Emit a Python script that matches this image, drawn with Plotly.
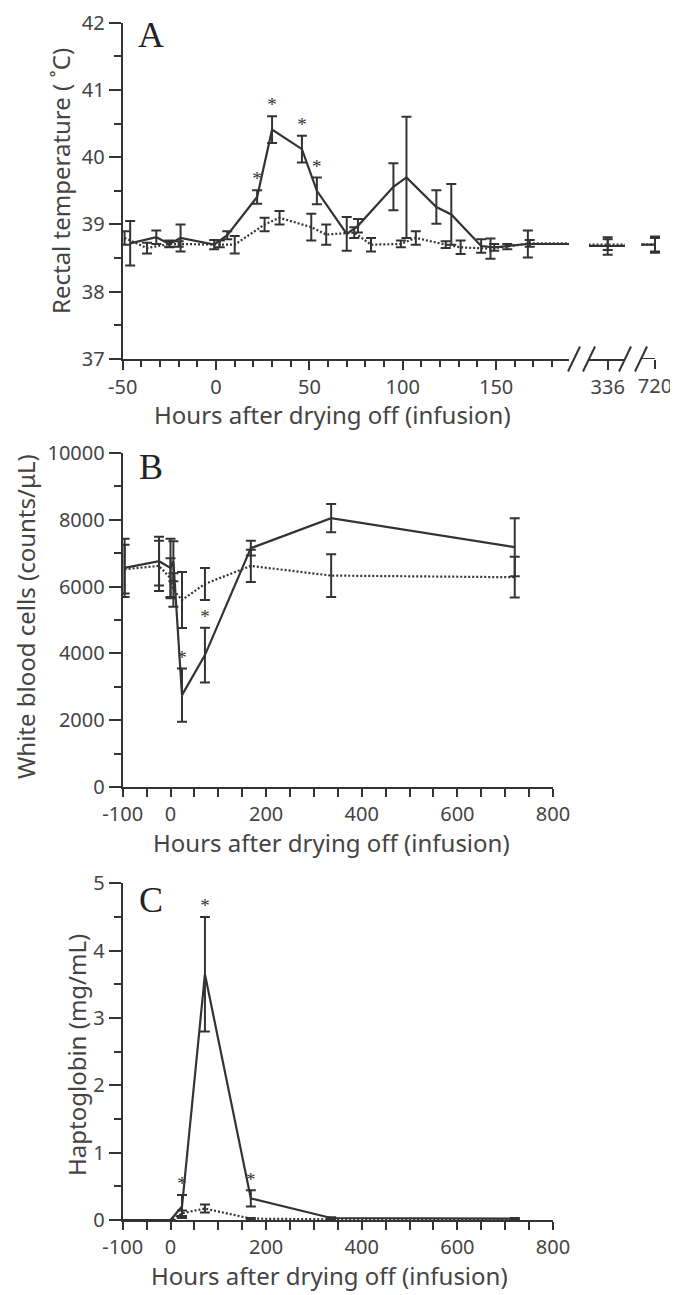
import plotly.graph_objects as go

# page body has an 8px default margin, so the figure is placed at (8, 8)
OFF = 8
W, H = 678 - OFF, 1295 - OFF

# ---------------- Panel A: rectal temperature ----------------
A_trt_t = [-46, -32, -25, -19, -1, 6, 22, 30, 46, 54, 70, 76, 95, 102, 118, 126, 142, 149, 167, 336, 720]
A_trt_v = [38.72, 38.81, 38.71, 38.80, 38.70, 38.84, 39.41, 40.41, 40.12, 39.50, 38.86, 38.98,
           39.56, 39.70, 39.26, 39.15, 38.68, 38.66, 38.71, 38.68, 38.70]
A_trt_e = [0.33, 0.10, 0.05, 0.20, 0.07, 0.06, 0.10, 0.20, 0.20, 0.20, 0.25, 0.10,
           0.35, 0.90, 0.25, 0.45, 0.10, 0.05, 0.20, 0.13, 0.12]
A_trt_sig = [0, 0, 0, 0, 0, 0, 1, 1, 1, 1, 0, 0, 0, 0, 0, 0, 0, 0, 0, 0, 0]

A_ctl_t = [-49, -37, -25, -20, 2, 10, 26, 34, 51, 59, 74, 83, 99, 107, 123, 131, 147, 156, 168, 336, 720]
A_ctl_v = [38.80, 38.65, 38.71, 38.71, 38.71, 38.70, 39.00, 39.10, 38.96, 38.85, 38.88, 38.70,
           38.71, 38.80, 38.70, 38.66, 38.64, 38.67, 38.72, 38.70, 38.70]
A_ctl_e = [0.10, 0.08, 0.04, 0.04, 0.05, 0.13, 0.10, 0.10, 0.20, 0.15, 0.08, 0.10,
           0.05, 0.10, 0.05, 0.10, 0.15, 0.04, 0.05, 0.08, 0.10]

A_ticks = [-50, 0, 50, 100, 150]
A_yticks = [37, 38, 39, 40, 41, 42]

# ---------------- Panel B: white blood cells ----------------
B_t = [-96, -24, 0, 6, 24, 72, 168, 336, 720]
B_trt_v = [6560, 6760, 6560, 6760, 2750, 3950, 7150, 8050, 7180]
B_trt_e = [870, 730, 870, 600, 800, 820, 220, 420, 870]
B_trt_sig = [0, 0, 0, 0, 1, 1, 0, 0, 0]
B_ctl_v = [6520, 6620, 6250, 5900, 5600, 6080, 6620, 6330, 6280]
B_ctl_e = [730, 750, 600, 500, 840, 480, 480, 640, 610]
B_yticks = [0, 2000, 4000, 6000, 8000, 10000]

# ---------------- Panel C: haptoglobin ----------------
C_t = [-96, -24, 0, 24, 72, 168, 336, 720]
C_trt_v = [0.0, 0.0, 0.0, 0.20, 3.65, 0.32, 0.03, 0.02]
C_trt_e = [0.0, 0.0, 0.0, 0.17, 0.85, 0.12, 0.01, 0.01]
C_trt_sig = [0, 0, 0, 1, 1, 1, 0, 0]
C_ctl_v = [0.0, 0.0, 0.0, 0.10, 0.17, 0.02, 0.01, 0.01]
C_ctl_e = [0.0, 0.0, 0.0, 0.04, 0.06, 0.01, 0.01, 0.01]
C_yticks = [0, 1, 2, 3, 4, 5]

BC_ticks = list(range(-100, 801, 50))
BC_labels = {-100: "-100", 0: "0", 200: "200", 400: "400", 600: "600", 800: "800"}

X_TITLE = "Hours after drying off (infusion)"

LINE = "#333333"
TXT = "#444444"
FONT = "Noto Sans"


def fx(p):
    return (p - OFF) / W


def fy(p):
    return 1 - (p - OFF) / H


fig = go.Figure()


def add_series(t, v, e, dash, xa, ya, width=2.2):
    fig.add_trace(go.Scatter(
        x=t, y=v, mode="lines",
        line=dict(color=LINE, width=width, dash=dash),
        error_y=dict(type="data", array=e, visible=True, color=LINE, thickness=2, width=5),
        xaxis=xa, yaxis=ya, showlegend=False, cliponaxis=True, hoverinfo="skip"))


def add_stars(t, v, e, sig, xa, ya):
    xs = [ti for ti, s in zip(t, sig) if s]
    ys = [vi + ei for vi, ei, s in zip(v, e, sig) if s]
    fig.add_trace(go.Scatter(
        x=xs, y=ys, mode="text", text=["*"] * len(xs), textposition="top center",
        textfont=dict(family="Liberation Serif", size=19, color=LINE),
        xaxis=xa, yaxis=ya, showlegend=False, cliponaxis=False, hoverinfo="skip"))


DOT = "2px,2px"

# Panel A: main segment + 336 segment + 720 segment
for xa in ["x", "x2", "x3"]:
    add_series(A_ctl_t, A_ctl_v, A_ctl_e, DOT, xa, "y")
    add_series(A_trt_t, A_trt_v, A_trt_e, "solid", xa, "y")
add_stars(A_trt_t, A_trt_v, A_trt_e, A_trt_sig, "x", "y")

# Panel B
add_series(B_t, B_ctl_v, B_ctl_e, DOT, "x4", "y2")
add_series(B_t, B_trt_v, B_trt_e, "solid", "x4", "y2")
add_stars(B_t, B_trt_v, B_trt_e, B_trt_sig, "x4", "y2")

# Panel C
add_series(C_t, C_ctl_v, C_ctl_e, DOT, "x5", "y3")
add_series(C_t, C_trt_v, C_trt_e, "solid", "x5", "y3")
add_stars(C_t, C_trt_v, C_trt_e, C_trt_sig, "x5", "y3")

ax_common = dict(showgrid=False, zeroline=False, showline=True, linecolor=LINE, linewidth=2,
                 ticks="outside", tickcolor=LINE, tickwidth=2, automargin=False,
                 tickfont=dict(family=FONT, size=20, color=TXT), fixedrange=True)


def minor(dt, t0, ln=7):
    return dict(dtick=dt, tick0=t0, ticklen=ln, ticks="outside", tickcolor=LINE, tickwidth=2, showgrid=False)


# pixel layout (page coordinates)
A_top, A_bot = 22.7, 359.0
B_top, B_bot = 453.0, 787.0
C_top, C_bot = 883.3, 1220.0
L = 122.7
PXH_A = 1.867  # px per hour in panel A
A_main_end = 569.0
A_x_max = -50 + (A_main_end - L) / PXH_A
S2_l, S2_r = 589.0, 625.0
S3_l, S3_r = 641.0, 661.0
BC_r = 553.0

fig.update_layout(
    template="none",
    width=W, height=H, margin=dict(l=0, r=0, t=0, b=0, pad=0, autoexpand=False),
    paper_bgcolor="white", plot_bgcolor="white", showlegend=False,
    xaxis=dict(ax_common, domain=[fx(L), fx(A_main_end)], range=[-50, A_x_max], anchor="y",
               tickmode="array", tickvals=A_ticks, ticktext=[str(v) for v in A_ticks], ticklen=9,
               minor=minor(10, 0, 6)),
    xaxis2=dict(ax_common, domain=[fx(S2_l), fx(S2_r)],
                range=[336 - (607.7 - S2_l) / PXH_A, 336 + (S2_r - 607.7) / PXH_A],
                anchor="y", tickmode="array", tickvals=[336], ticktext=["336"], ticklen=9),
    xaxis3=dict(ax_common, domain=[fx(S3_l), fx(S3_r)],
                range=[720 - (655.0 - S3_l) / PXH_A, 720 + (S3_r - 655.0) / PXH_A],
                anchor="y", showline=False, tickmode="array", tickvals=[720], ticktext=["720"], ticklen=9),
    yaxis=dict(ax_common, domain=[fy(A_bot), fy(A_top)], range=[37, 42], anchor="x",
               tickmode="array", tickvals=A_yticks, ticktext=[str(v) for v in A_yticks], ticklen=12,
               minor=minor(0.5, 37)),
    xaxis4=dict(ax_common, domain=[fx(L), fx(BC_r)], range=[-100, 800], anchor="y2",
                tickmode="array", tickvals=BC_ticks, ticktext=[BC_labels.get(v, "") for v in BC_ticks],
                ticklen=8),
    yaxis2=dict(ax_common, domain=[fy(B_bot), fy(B_top)], range=[0, 10000], anchor="x4",
                tickmode="array", tickvals=B_yticks, ticktext=[str(v) for v in B_yticks], ticklen=12,
                minor=minor(1000, 0)),
    xaxis5=dict(ax_common, domain=[fx(L), fx(BC_r)], range=[-100, 800], anchor="y3",
                tickmode="array", tickvals=BC_ticks, ticktext=[BC_labels.get(v, "") for v in BC_ticks],
                ticklen=8),
    yaxis3=dict(ax_common, domain=[fy(C_bot), fy(C_top)], range=[0, 5], anchor="x5",
                tickmode="array", tickvals=C_yticks, ticktext=[str(v) for v in C_yticks], ticklen=12,
                minor=minor(0.5, 0)),
)

# axis line of the 720 segment (ends at the 720 tick) and the break marks
fig.add_shape(type="line", xref="x3", yref="y", x0=720 - (655.0 - S3_l) / PXH_A, x1=720, y0=37, y1=37,
              line=dict(color=LINE, width=2))
for cx in [574.0, 589.0, 625.0, 641.0]:
    fig.add_shape(type="line", xref="paper", yref="paper",
                  x0=fx(cx - 6), y0=fy(A_bot + 12.5), x1=fx(cx + 6), y1=fy(A_bot - 12.5),
                  line=dict(color=LINE, width=2))

ann_font = dict(family=FONT, size=24, color=TXT)
base = dict(xref="paper", yref="paper", showarrow=False, xanchor="center", yanchor="middle")
annotations = [
    dict(base, text=X_TITLE, x=fx(332), y=fy(414), font=ann_font),
    dict(base, text=X_TITLE, x=fx(331), y=fy(842), font=ann_font),
    dict(base, text=X_TITLE, x=fx(329), y=fy(1275), font=ann_font),
    dict(base, text="Rectal temperature ( \u02daC)", x=fx(60), y=fy(181), textangle=-90, font=ann_font),
    dict(base, text="White blood cells (counts/\u03bcL)", x=fx(25), y=fy(617), textangle=-90, font=ann_font),
    dict(base, text="Haptoglobin (mg/mL)", x=fx(76), y=fy(1055), textangle=-90, font=ann_font),
]
for letter, ypx in [("A", 35), ("B", 467), ("C", 900)]:
    annotations.append(dict(base, text=letter, x=fx(151), y=fy(ypx),
                            font=dict(family="Liberation Serif", size=36, color="#222222")))
fig.update_layout(annotations=annotations)

fig.write_html("out.html")
